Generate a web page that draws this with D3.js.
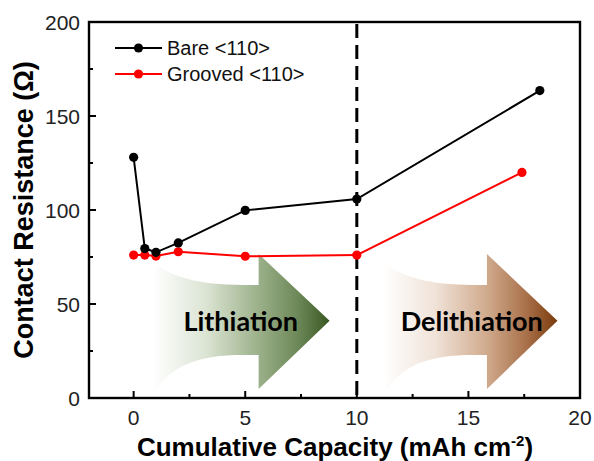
<!DOCTYPE html>
<html>
<head>
<meta charset="utf-8">
<script src="https://cdn.jsdelivr.net/npm/d3@7"></script>
<style>
  html, body { margin: 0; padding: 0; background: #fff; }
  svg { display: block; }
</style>
</head>
<body>
<svg id="chart" width="594" height="461"></svg>
<script>
// Cumulative capacity (mAh cm^-2) and contact resistance (ohm)
const bareCapacity     = [0, 0.5, 1, 2, 5, 10, 18.2];
const bareResistance   = [128, 79.5, 77.5, 82.5, 99.8, 105.8, 163.5];
const grooveCapacity   = [0, 0.5, 1, 2, 5, 10, 17.4];
const grooveResistance = [76, 76, 75.5, 77.8, 75.4, 76, 120];
const seriesNames      = ["Bare <110>", "Grooved <110>"];
const seriesColors     = ["#000000", "#ff0000"];
const xTicks           = [0, 5, 10, 15, 20];
const yTicks           = [0, 50, 100, 150, 200];
const switchCapacity   = 10;
const stageNames       = ["Lithiation", "Delithiation"];

const svg = d3.select("#chart");
const L = 89, R = 580, T = 22, B = 398;

const x = d3.scaleLinear().domain([-2, 20]).range([L, R]);
const y = d3.scaleLinear().domain([0, 200]).range([B, T]);

// Gradient fills for the stage arrows
const defs = svg.append("defs");
const gradStops = [
  [[0, "#ffffff"], [0.3, "#dbe4d3"], [0.6, "#9bb089"], [0.82, "#6d8858"], [1, "#3a5822"]],
  [[0, "#ffffff"], [0.3, "#f0e2d7"], [0.6, "#cfa98c"], [0.82, "#a9714a"], [1, "#7a3a0c"]]
];
gradStops.forEach((stops, i) => {
  const g = defs.append("linearGradient").attr("id", "stage" + i)
    .attr("x1", "0%").attr("x2", "100%").attr("y1", "0%").attr("y2", "0%");
  stops.forEach(s => g.append("stop").attr("offset", s[0]).attr("stop-color", s[1]));
});

// Stage arrows, laid out in data units: [start, head base, tip]
const arrowSpans = [[0.88, 5.6, 8.78], [11.2, 15.83, 18.99]];
const arrowLevels = { topL: 72.3, bodyTop: 60.1, headTop: 76.6, mid: 41.1, bodyBot: 22.9, headBot: 4.8, botL: 2.4 };
arrowSpans.forEach((s, i) => {
  const x0 = x(s[0]), xh = x(s[1]), xt = x(s[2]);
  const a = arrowLevels;
  const p = d3.path();
  p.moveTo(x0, y(a.topL));
  p.bezierCurveTo(x0 + 18, y(a.bodyTop) - 8, x0 + 45, y(a.bodyTop), x0 + 90, y(a.bodyTop));
  p.lineTo(xh, y(a.bodyTop));
  p.lineTo(xh, y(a.headTop));
  p.lineTo(xt, y(a.mid));
  p.lineTo(xh, y(a.headBot));
  p.lineTo(xh, y(a.bodyBot));
  p.lineTo(x0 + 90, y(a.bodyBot));
  p.bezierCurveTo(x0 + 45, y(a.bodyBot), x0 + 18, y(a.bodyBot) + 10, x0, y(a.botL));
  p.closePath();
  svg.append("path").attr("d", p.toString()).attr("fill", `url(#stage${i})`);
});

// Stage labels
const stageCenters = [4.8, 15.15];
stageNames.forEach((name, i) => {
  svg.append("text")
    .attr("x", x(stageCenters[i])).attr("y", 331)
    .attr("text-anchor", "middle")
    .attr("font-family", "Lato, 'Open Sans', sans-serif")
    .attr("font-weight", 700).attr("font-size", 27)
    .attr("fill", "#000")
    .text(name);
});

// Dashed divider between lithiation and delithiation
svg.append("line")
  .attr("x1", x(switchCapacity)).attr("x2", x(switchCapacity))
  .attr("y1", T + 2).attr("y2", B)
  .attr("stroke", "#000").attr("stroke-width", 3)
  .attr("stroke-dasharray", "14,7");

// Series lines and markers
const series = [
  bareCapacity.map((c, i) => [c, bareResistance[i]]),
  grooveCapacity.map((c, i) => [c, grooveResistance[i]])
];
const line = d3.line().x(d => x(d[0])).y(d => y(d[1]));
[1, 0].forEach(k => {
  svg.append("path").datum(series[k])
    .attr("d", line).attr("fill", "none")
    .attr("stroke", seriesColors[k]).attr("stroke-width", 2);
  svg.append("g").selectAll("circle").data(series[k]).join("circle")
    .attr("cx", d => x(d[0])).attr("cy", d => y(d[1])).attr("r", 4.6)
    .attr("fill", seriesColors[k]);
});

// Frame
svg.append("rect")
  .attr("x", L).attr("y", T).attr("width", R - L).attr("height", B - T)
  .attr("fill", "none").attr("stroke", "#000").attr("stroke-width", 2.4);

// Inward ticks (major + minor)
const tickFont = "'Liberation Sans', Arial, sans-serif";
const xMinor = d3.range(-2.5, 20.01, 2.5).filter(v => v >= -2 && !xTicks.includes(v));
const yMinor = d3.range(25, 200, 50);
const gx = svg.append("g").attr("stroke", "#000").attr("stroke-width", 2);
xTicks.forEach(v => gx.append("line").attr("x1", x(v)).attr("x2", x(v)).attr("y1", B).attr("y2", B - 7));
xMinor.forEach(v => gx.append("line").attr("x1", x(v)).attr("x2", x(v)).attr("y1", B).attr("y2", B - 4));
yTicks.forEach(v => gx.append("line").attr("x1", L).attr("x2", L + 7).attr("y1", y(v)).attr("y2", y(v)));
yMinor.forEach(v => gx.append("line").attr("x1", L).attr("x2", L + 4).attr("y1", y(v)).attr("y2", y(v)));

// Tick labels
svg.append("g").selectAll("text").data(xTicks).join("text")
  .attr("x", d => x(d)).attr("y", 425)
  .attr("text-anchor", "middle")
  .attr("font-family", tickFont).attr("font-size", 21).attr("fill", "#222")
  .text(d => d);
svg.append("g").selectAll("text").data(yTicks).join("text")
  .attr("x", 80).attr("y", d => y(d) + 7.5)
  .attr("text-anchor", "end")
  .attr("font-family", tickFont).attr("font-size", 21).attr("fill", "#222")
  .text(d => d);

// Axis titles
const xt = svg.append("text")
  .attr("x", 335).attr("y", 456)
  .attr("text-anchor", "middle")
  .attr("font-family", tickFont).attr("font-weight", 700).attr("font-size", 26)
  .attr("fill", "#000");
xt.append("tspan").text("Cumulative Capacity (mAh cm");
xt.append("tspan").attr("dy", -10).attr("font-size", 15).text("-2");
xt.append("tspan").attr("dy", 10).text(")");

svg.append("text")
  .attr("transform", "translate(33,210) rotate(-90)")
  .attr("text-anchor", "middle")
  .attr("font-family", tickFont).attr("font-weight", 700).attr("font-size", 27)
  .attr("fill", "#000")
  .text("Contact Resistance (\u03A9)");

// Legend
const legendY = [48, 74];
seriesNames.forEach((name, i) => {
  const g = svg.append("g");
  g.append("line").attr("x1", 115).attr("x2", 162).attr("y1", legendY[i]).attr("y2", legendY[i])
    .attr("stroke", seriesColors[i]).attr("stroke-width", 2);
  g.append("circle").attr("cx", 138.5).attr("cy", legendY[i]).attr("r", 4.6).attr("fill", seriesColors[i]);
  g.append("text").attr("x", 167).attr("y", legendY[i] + 7)
    .attr("font-family", tickFont).attr("font-size", 20).attr("fill", "#111")
    .text(name);
});
</script>
</body>
</html>
